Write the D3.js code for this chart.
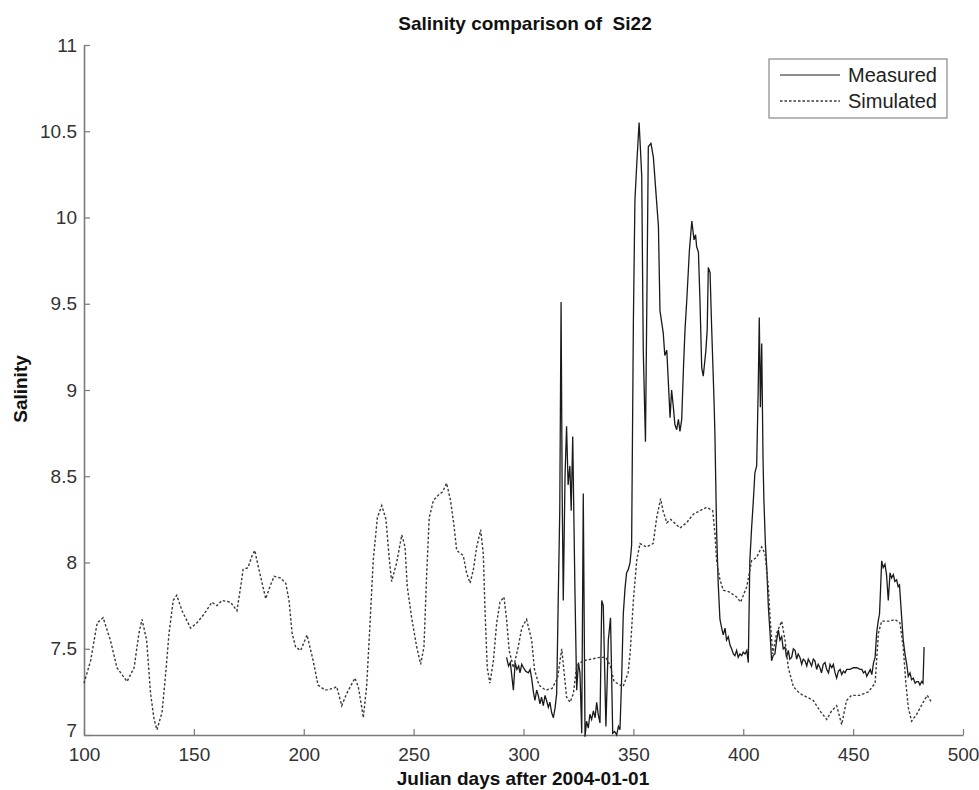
<!DOCTYPE html>
<html>
<head>
<meta charset="utf-8">
<script src="https://cdn.jsdelivr.net/npm/d3@7"></script>
<style>
  body { margin: 0; background: #fff; }
  text { font-family: "Liberation Sans", Arial, sans-serif; }
</style>
</head>
<body>
<div id="chart"></div>
<script>
// simulated salinity (dotted)
var simDays = [100, 103, 106, 108.7, 112, 115, 119.6, 122.8, 125, 126.4, 128.5, 130.3, 131.9, 133.2, 135.5, 137.2, 138.7, 140.6, 142.2, 144.6,
    148.5, 151.4, 154.6, 158.2, 160.5, 162.8, 166.7, 169.6, 171.3, 172.4, 174.6, 176.5, 177.7, 179.6, 182.7, 184.6, 186.5, 189.5, 191.8, 193.3,
    194.7, 196.3, 198.6, 201.5, 204.3, 206.5, 209.7, 213.4, 215, 217.3, 219.5, 223.3, 224.8, 226.4, 227.1, 228.6, 230.1, 231.6, 233.5, 235.5,
    237.4, 239, 240, 242.3, 244.6, 246.1, 247.1, 249.1, 251.4, 253.2, 254.7, 255.9, 257.1, 259, 261.2, 263.2, 265, 266.8, 268.4, 269.6,
    272.6, 274.1, 275.7, 277.2, 278.7, 280.5, 281.7, 282.5, 283.5, 284.7, 286.3, 287.8, 289.3, 291.1, 292.3, 293.5, 295.4, 297.6, 299.2, 301.4,
    303.7, 305, 307, 310, 313, 315.5, 317.4, 319.6, 321.2, 322.7, 324.2, 327, 331, 334.8, 337.5, 339.5, 341.2, 345.3, 347.6, 348.5,
    350, 351.5, 353, 356, 359, 360.6, 362.4, 363.5, 365.2, 367, 371.2, 374.2, 377.3, 380.3, 383.3, 386.1, 387.1, 387.9, 389.4, 390.9,
    393.5, 397, 398.8, 401.6, 403.8, 406.1, 408.4, 409.9, 411.4, 412.2, 413.4, 415.2, 417.5, 419, 420.5, 422.8, 425.8, 428.9, 431.9, 434.9,
    438, 440.2, 442.5, 444.8, 447, 449.3, 453, 456.9, 460, 461.5, 463, 466.8, 469, 471.3, 472.8, 474, 475.1, 476.6, 478.9, 481.9,
    483.7, 485.7];
var simVals = [7.30, 7.43, 7.65, 7.68, 7.55, 7.39, 7.31, 7.39, 7.59, 7.67, 7.55, 7.24, 7.09, 7.03, 7.13, 7.36, 7.59, 7.78, 7.81, 7.72,
    7.62, 7.65, 7.70, 7.77, 7.75, 7.78, 7.77, 7.72, 7.86, 7.96, 7.97, 8.04, 8.07, 7.96, 7.79, 7.86, 7.92, 7.91, 7.88, 7.78,
    7.59, 7.51, 7.49, 7.58, 7.43, 7.29, 7.26, 7.27, 7.28, 7.17, 7.24, 7.33, 7.28, 7.16, 7.10, 7.28, 7.63, 8.01, 8.26, 8.33,
    8.25, 8.01, 7.89, 8.00, 8.16, 8.09, 7.86, 7.68, 7.51, 7.41, 7.51, 7.92, 8.26, 8.36, 8.39, 8.41, 8.46, 8.36, 8.21, 8.07,
    8.04, 7.94, 7.88, 7.96, 8.09, 8.19, 8.05, 7.72, 7.39, 7.30, 7.43, 7.65, 7.77, 7.80, 7.67, 7.49, 7.39, 7.51, 7.62, 7.67,
    7.55, 7.38, 7.29, 7.26, 7.27, 7.33, 7.50, 7.22, 7.19, 7.24, 7.40, 7.43, 7.44, 7.45, 7.45, 7.40, 7.31, 7.28, 7.36, 7.47,
    7.78, 8.01, 8.11, 8.09, 8.11, 8.26, 8.37, 8.30, 8.23, 8.25, 8.20, 8.23, 8.28, 8.30, 8.32, 8.30, 8.17, 8.01, 7.90, 7.84,
    7.83, 7.80, 7.77, 7.86, 8.01, 8.03, 8.09, 8.05, 7.86, 7.68, 7.47, 7.59, 7.66, 7.55, 7.39, 7.28, 7.24, 7.22, 7.20, 7.14,
    7.09, 7.14, 7.17, 7.06, 7.20, 7.23, 7.23, 7.25, 7.30, 7.59, 7.66, 7.66, 7.67, 7.65, 7.51, 7.30, 7.16, 7.08, 7.12, 7.19,
    7.23, 7.19];

// measured salinity (solid)
var measDays = [292.3, 293.2, 294, 294.8, 295.4, 296.2, 297, 297.8, 298.4, 299.2, 300, 301, 302.2, 303, 303.7, 304.5, 305.2, 306, 306.7, 307.5,
    308.2, 309, 309.8, 310.5, 311.3, 312, 312.8, 313.6, 314.4, 315.1, 315.8, 316.5, 317.1, 317.6, 318.1, 318.9, 319.6, 320.3, 321.1, 321.7,
    322.4, 323.4, 324.2, 325, 325.7, 326.5, 327.2, 328, 328.7, 329.5, 330.2, 331, 331.8, 332.6, 333.3, 334, 334.8, 335.6, 336.3, 337.5,
    338.6, 339.6, 340.6, 341.5, 342.4, 343.2, 343.9, 344.7, 345.4, 346.2, 346.9, 347.7, 348.5, 349.2, 350, 350.7, 351.5, 352.6, 353.2, 353.8,
    354.5, 355.5, 356.2, 356.8, 358, 359.1, 360.3, 361.4, 362.1, 363.6, 364.3, 365.2, 365.9, 366.7, 367.4, 368.2, 368.9, 369.7, 370.5, 371.2,
    372, 372.8, 373.5, 374.3, 375.5, 376.6, 377.6, 378.3, 378.8, 379.6, 380.3, 381.1, 381.8, 383, 383.6, 384.1, 384.9, 385.6, 386.7, 387.1,
    387.9, 388.6, 389.4, 390.2, 390.9, 391.7, 392.4, 393.2, 394, 394.7, 395.5, 396.2, 397, 397.7, 398.5, 399.3, 400, 400.8, 401.6, 402.3,
    403, 403.8, 404.6, 405.3, 406.1, 406.8, 407.3, 407.8, 408.4, 409, 409.4, 410.1, 410.7, 411.4, 412.2, 412.9, 413.6, 414.4, 415.2, 416,
    416.7, 417.5, 418.2, 419, 419.7, 420.5, 421.2, 422, 422.8, 423.6, 424.3, 425, 425.8, 426.6, 427.3, 428.1, 428.9, 429.6, 430.4, 431.1,
    431.9, 432.6, 433.4, 434.1, 434.9, 435.6, 436.4, 437.2, 438, 438.8, 439.5, 440.3, 441, 441.8, 442.5, 443.3, 444.1, 444.8, 445.6, 446.3,
    447.1, 448.6, 450.1, 451.7, 453.2, 454, 454.7, 455.5, 456.2, 457, 457.8, 458.5, 459.3, 460, 460.7, 461.4, 462, 462.5, 463, 463.7,
    464.5, 465.2, 466, 466.8, 467.5, 468.3, 469, 469.8, 470.5, 471.1, 472.1, 472.8, 473.6, 474.4, 475.1, 475.9, 476.6, 477.4, 478.2, 478.9,
    479.7, 480.4, 481.2, 481.8, 482.3];
var measVals = [7.45, 7.40, 7.42, 7.33, 7.26, 7.42, 7.38, 7.40, 7.36, 7.41, 7.39, 7.37, 7.36, 7.38, 7.33, 7.25, 7.20, 7.26, 7.23, 7.18,
    7.22, 7.17, 7.23, 7.20, 7.16, 7.19, 7.13, 7.10, 7.16, 7.24, 7.78, 8.30, 9.51, 8.40, 7.78, 8.50, 8.79, 8.45, 8.56, 8.30,
    8.73, 7.84, 7.26, 7.42, 7.36, 7.01, 8.40, 6.99, 7.08, 7.04, 7.12, 7.09, 7.14, 7.10, 7.19, 7.12, 7.07, 7.78, 7.75, 7.05,
    7.55, 7.68, 7.01, 7.02, 7.00, 7.05, 7.03, 7.34, 7.70, 7.85, 7.94, 7.96, 8.00, 8.10, 9.39, 10.10, 10.30, 10.55, 10.40, 10.24,
    9.23, 8.70, 9.60, 10.41, 10.43, 10.35, 10.14, 9.95, 9.46, 9.33, 9.20, 9.23, 9.05, 8.84, 9.00, 8.90, 8.80, 8.77, 8.83, 8.76,
    8.83, 9.13, 9.35, 9.52, 9.81, 9.98, 9.87, 9.90, 9.83, 9.80, 9.52, 9.13, 9.08, 9.23, 9.35, 9.71, 9.68, 9.37, 8.94, 8.75,
    8.17, 7.88, 7.67, 7.62, 7.58, 7.62, 7.55, 7.57, 7.52, 7.50, 7.47, 7.46, 7.49, 7.45, 7.47, 7.46, 7.48, 7.47, 7.49, 7.42,
    8.01, 8.20, 8.36, 8.52, 8.56, 9.00, 9.42, 8.90, 9.27, 8.60, 8.36, 8.10, 7.97, 7.75, 7.59, 7.43, 7.46, 7.47, 7.55, 7.61,
    7.55, 7.57, 7.50, 7.51, 7.45, 7.49, 7.44, 7.45, 7.50, 7.49, 7.44, 7.47, 7.45, 7.41, 7.44, 7.43, 7.40, 7.44, 7.42, 7.40,
    7.44, 7.43, 7.38, 7.41, 7.39, 7.36, 7.41, 7.42, 7.38, 7.36, 7.41, 7.39, 7.41, 7.36, 7.33, 7.37, 7.38, 7.35, 7.37, 7.36,
    7.38, 7.38, 7.39, 7.39, 7.38, 7.38, 7.36, 7.37, 7.34, 7.36, 7.38, 7.35, 7.42, 7.45, 7.59, 7.66, 7.70, 7.85, 8.01, 7.97,
    7.99, 7.93, 7.78, 7.94, 7.91, 7.93, 7.89, 7.90, 7.86, 7.87, 7.68, 7.55, 7.47, 7.41, 7.34, 7.36, 7.32, 7.33, 7.30, 7.31,
    7.31, 7.29, 7.31, 7.30, 7.51];

var xTicks = [100, 150, 200, 250, 300, 350, 400, 450, 500];
var yTicks = [7, 7.5, 8, 8.5, 9, 9.5, 10, 10.5, 11];
var seriesNames = ["Measured", "Simulated"];

var width = 979, height = 790;
var margin = { top: 45, right: 16, bottom: 55, left: 84 };
var graphWidth = width - margin.left - margin.right;
var graphHeight = height - margin.top - margin.bottom;

var svg = d3.select("#chart")
    .append("svg")
    .attr("width", width)
    .attr("height", height);

var svg_g = svg.append("g")
    .attr("transform", `translate(${margin.left},${margin.top})`);

var xScale = d3.scaleLinear().domain([100, 500]).range([0, graphWidth]);
var yScale = d3.scaleLinear().domain([7, 11]).range([graphHeight, 0]);

var xAxis = svg_g.append("g")
    .attr("transform", `translate(0,${graphHeight})`)
    .call(d3.axisBottom(xScale).tickValues(xTicks).tickFormat(d => d)
        .tickSizeInner(-6).tickSizeOuter(0).tickPadding(13));

var yAxis = svg_g.append("g")
    .call(d3.axisLeft(yScale).tickValues(yTicks).tickFormat(d => d)
        .tickSizeInner(-6).tickSizeOuter(0).tickPadding(7));

[xAxis, yAxis].forEach(function(ax) {
    ax.select(".domain").attr("stroke", "#7a7a7a").attr("stroke-width", 1.6);
    ax.selectAll(".tick line").attr("stroke", "#7a7a7a").attr("stroke-width", 1.2);
    ax.selectAll("text")
        .style("font-family", "'Liberation Sans', Arial, sans-serif")
        .style("font-size", "19px")
        .attr("fill", "#333");
});

// lowest y label sits a little above the x labels
yAxis.selectAll(".tick text").filter(d => d === 7).attr("dy", "0.1em");

var measData = measDays.map((d, i) => ({ day: d, val: measVals[i] }));
var simData = simDays.map((d, i) => ({ day: d, val: simVals[i] }));

var line = d3.line()
    .x(d => xScale(d.day))
    .y(d => yScale(d.val));

var plot = svg_g.append("g");

plot.append("path")
    .datum(measData)
    .attr("fill", "none")
    .attr("stroke", "#1a1a1a")
    .attr("stroke-width", 1.3)
    .attr("d", line);

plot.append("path")
    .datum(simData)
    .attr("fill", "none")
    .attr("stroke", "#3a3a3a")
    .attr("stroke-width", 1.4)
    .attr("stroke-dasharray", "2.5,2")
    .attr("d", line);

// title and axis labels
svg.append("text")
    .attr("x", 525)
    .attr("y", 30)
    .attr("text-anchor", "middle")
    .style("font-size", "19px")
    .style("font-weight", "bold")
    .style("white-space", "pre")
    .attr("fill", "#111")
    .text("Salinity comparison of  Si22");

svg.append("text")
    .attr("x", 523)
    .attr("y", 785)
    .attr("text-anchor", "middle")
    .style("font-size", "19px")
    .style("font-weight", "bold")
    .attr("fill", "#111")
    .text("Julian days after 2004-01-01");

svg.append("text")
    .attr("transform", "translate(27,389) rotate(-90)")
    .attr("text-anchor", "middle")
    .style("font-size", "19px")
    .style("font-weight", "bold")
    .attr("fill", "#111")
    .text("Salinity");

// legend
var legend = svg.append("g").attr("transform", "translate(769,59)");

legend.append("rect")
    .attr("width", 178)
    .attr("height", 59)
    .attr("fill", "#fff")
    .attr("stroke", "#888")
    .attr("stroke-width", 1.2);

seriesNames.forEach(function(name, i) {
    var yy = 16 + i * 26;
    legend.append("line")
        .attr("x1", 11).attr("x2", 71)
        .attr("y1", yy).attr("y2", yy)
        .attr("stroke", i === 0 ? "#1a1a1a" : "#3a3a3a")
        .attr("stroke-width", i === 0 ? 1 : 1.3)
        .attr("stroke-dasharray", i === 0 ? null : "2.5,2");
    legend.append("text")
        .attr("x", 79)
        .attr("y", yy + 7)
        .style("font-size", "20px")
        .attr("fill", "#222")
        .text(name);
});
</script>
</body>
</html>
